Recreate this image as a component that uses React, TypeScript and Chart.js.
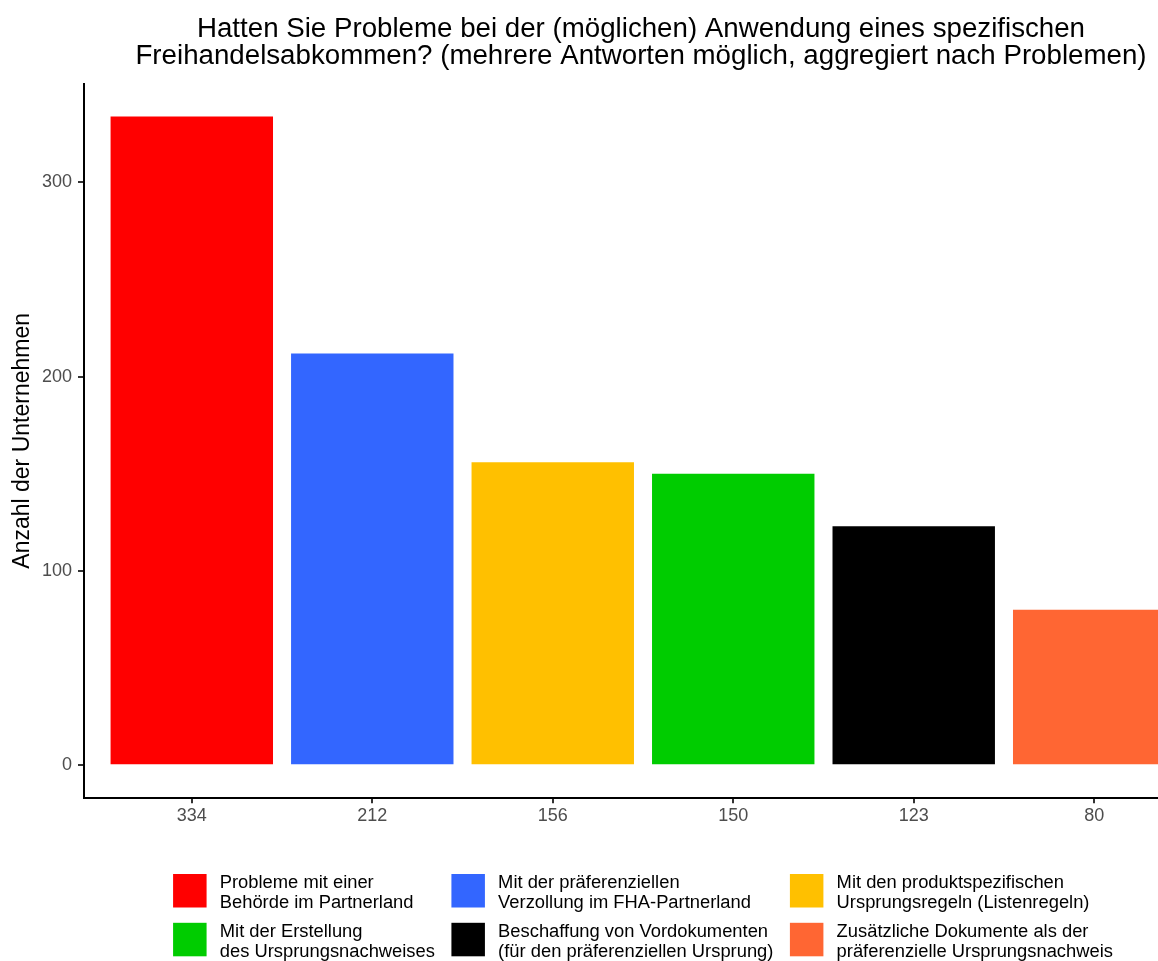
import React, { useEffect, useRef } from "react";
import { Chart, registerables } from "chart.js";

Chart.register(...registerables);

const FONT = "'Liberation Sans', Arial, Helvetica, sans-serif";

const titleLines = [
  "Hatten Sie Probleme bei der (möglichen) Anwendung eines spezifischen",
  "Freihandelsabkommen? (mehrere Antworten möglich, aggregiert nach Problemen)",
];
const yAxisTitle = "Anzahl der Unternehmen";

const categories = [
  "Probleme mit einer\nBehörde im Partnerland",
  "Mit der präferenziellen\nVerzollung im FHA-Partnerland",
  "Mit den produktspezifischen\nUrsprungsregeln (Listenregeln)",
  "Mit der Erstellung\ndes Ursprungsnachweises",
  "Beschaffung von Vordokumenten\n(für den präferenziellen Ursprung)",
  "Zusätzliche Dokumente als der\npräferenzielle Ursprungsnachweis",
];
const counts = [334, 212, 156, 150, 123, 80];
const xTickLabels = ["334", "212", "156", "150", "123", "80"];
const yTicks = [0, 100, 200, 300];
const barColors = ["#FF0000", "#3366FF", "#FFC000", "#00CC00", "#000000", "#FF6633"];

const CANVAS_W = 1286;
const CANVAS_H = 961;

const decorPlugin = {
  id: "decor",
  afterDraw(chart: any) {
    const ctx = chart.ctx as CanvasRenderingContext2D;
    const ca = chart.chartArea;
    const cx = (ca.left + ca.right) / 2;
    ctx.save();
    // Title
    ctx.fillStyle = "#000000";
    ctx.font = `27.7px ${FONT}`;
    ctx.textAlign = "center";
    ctx.textBaseline = "alphabetic";
    titleLines.forEach((t, i) => ctx.fillText(t, cx - 2, 36.7 + i * 26.8));

    // Legend (3 columns, filled by row)
    ctx.font = `18.35px ${FONT}`;
    const ncol = 3;
    const nrow = Math.ceil(categories.length / ncol);
    const keySize = 33.5;
    const textGap = 13.2;
    const colGap = 16.5;
    const colW: number[] = [];
    for (let c = 0; c < ncol; c++) {
      let w = 0;
      for (let r = 0; r < nrow; r++) {
        const idx = r * ncol + c;
        if (idx >= categories.length) continue;
        categories[idx].split("\n").forEach((l) => {
          w = Math.max(w, ctx.measureText(l).width);
        });
      }
      colW.push(keySize + textGap + w);
    }
    const total = colW.reduce((a, b) => a + b, 0) + colGap * (ncol - 1);
    const legendTop = ca.bottom + 76.3;
    const rowPitch = 48.8;
    ctx.textAlign = "left";
    let x = cx - total / 2;
    for (let c = 0; c < ncol; c++) {
      for (let r = 0; r < nrow; r++) {
        const idx = r * ncol + c;
        if (idx >= categories.length) continue;
        const top = legendTop + r * rowPitch;
        ctx.fillStyle = barColors[idx];
        ctx.fillRect(x, top, keySize, keySize);
        ctx.fillStyle = "#000000";
        categories[idx].split("\n").forEach((l, li) => {
          ctx.fillText(l, x + keySize + textGap, top + 14.3 + li * 19.4);
        });
      }
      x += colW[c] + colGap;
    }
    ctx.restore();
  },
};

export default function App() {
  const canvasRef = useRef<HTMLCanvasElement | null>(null);

  useEffect(() => {
    if (!canvasRef.current) return;
    const chart = new Chart(canvasRef.current, {
      type: "bar",
      data: {
        datasets: [
          {
            data: counts.map((v, i) => ({ x: i + 1, y: v })),
            backgroundColor: barColors,
            borderWidth: 0,
            barPercentage: 0.9,
            categoryPercentage: 1,
          },
        ],
      },
      options: {
        responsive: false,
        animation: false,
        layout: {
          padding: { top: 84, left: 0, right: CANVAS_W - 1202.5, bottom: 133.3 },
        },
        plugins: {
          legend: { display: false },
          title: { display: false },
          tooltip: { enabled: false },
        },
        scales: {
          x: {
            type: "linear",
            offset: false,
            min: 0.4,
            max: 6.6,
            afterBuildTicks: (scale: any) => {
              scale.ticks = xTickLabels.map((_, i) => ({ value: i + 1 }));
            },
            afterFit: (scale: any) => {
              scale.height = 30;
            },
            ticks: {
              autoSkip: false,
              maxRotation: 0,
              padding: 2.5,
              color: "#4D4D4D",
              font: { family: FONT, size: 18 },
              callback: (v: any) => xTickLabels[Math.round(Number(v)) - 1] ?? "",
            },
            grid: {
              offset: false,
              drawOnChartArea: false,
              drawTicks: true,
              tickLength: 5.5,
              color: "#333333",
              lineWidth: 2,
            },
            border: { display: true, color: "#000000", width: 2 },
          },
          y: {
            type: "linear",
            min: -16.7,
            max: 350.7,
            afterBuildTicks: (scale: any) => {
              scale.ticks = yTicks.map((v) => ({ value: v }));
            },
            afterFit: (scale: any) => {
              scale.width = 83.5;
            },
            ticks: {
              padding: 6,
              color: "#4D4D4D",
              font: { family: FONT, size: 18 },
              callback: (v: any) => String(v),
            },
            grid: {
              drawOnChartArea: false,
              drawTicks: true,
              tickLength: 5.5,
              color: "#333333",
              lineWidth: 2,
            },
            border: { display: true, color: "#000000", width: 2 },
            title: {
              display: true,
              text: yAxisTitle,
              color: "#000000",
              font: { family: FONT, size: 23 },
              padding: { top: 9, bottom: 0 },
            },
          },
        },
      },
      plugins: [decorPlugin],
    } as any);
    return () => chart.destroy();
  }, []);

  return (
    <div
      style={{
        position: "fixed",
        left: 0,
        top: 0,
        width: 1158,
        height: 961,
        overflow: "hidden",
        background: "#ffffff",
      }}
    >
      <canvas
        ref={canvasRef}
        width={CANVAS_W}
        height={CANVAS_H}
        style={{ display: "block", width: CANVAS_W, height: CANVAS_H }}
      />
    </div>
  );
}
